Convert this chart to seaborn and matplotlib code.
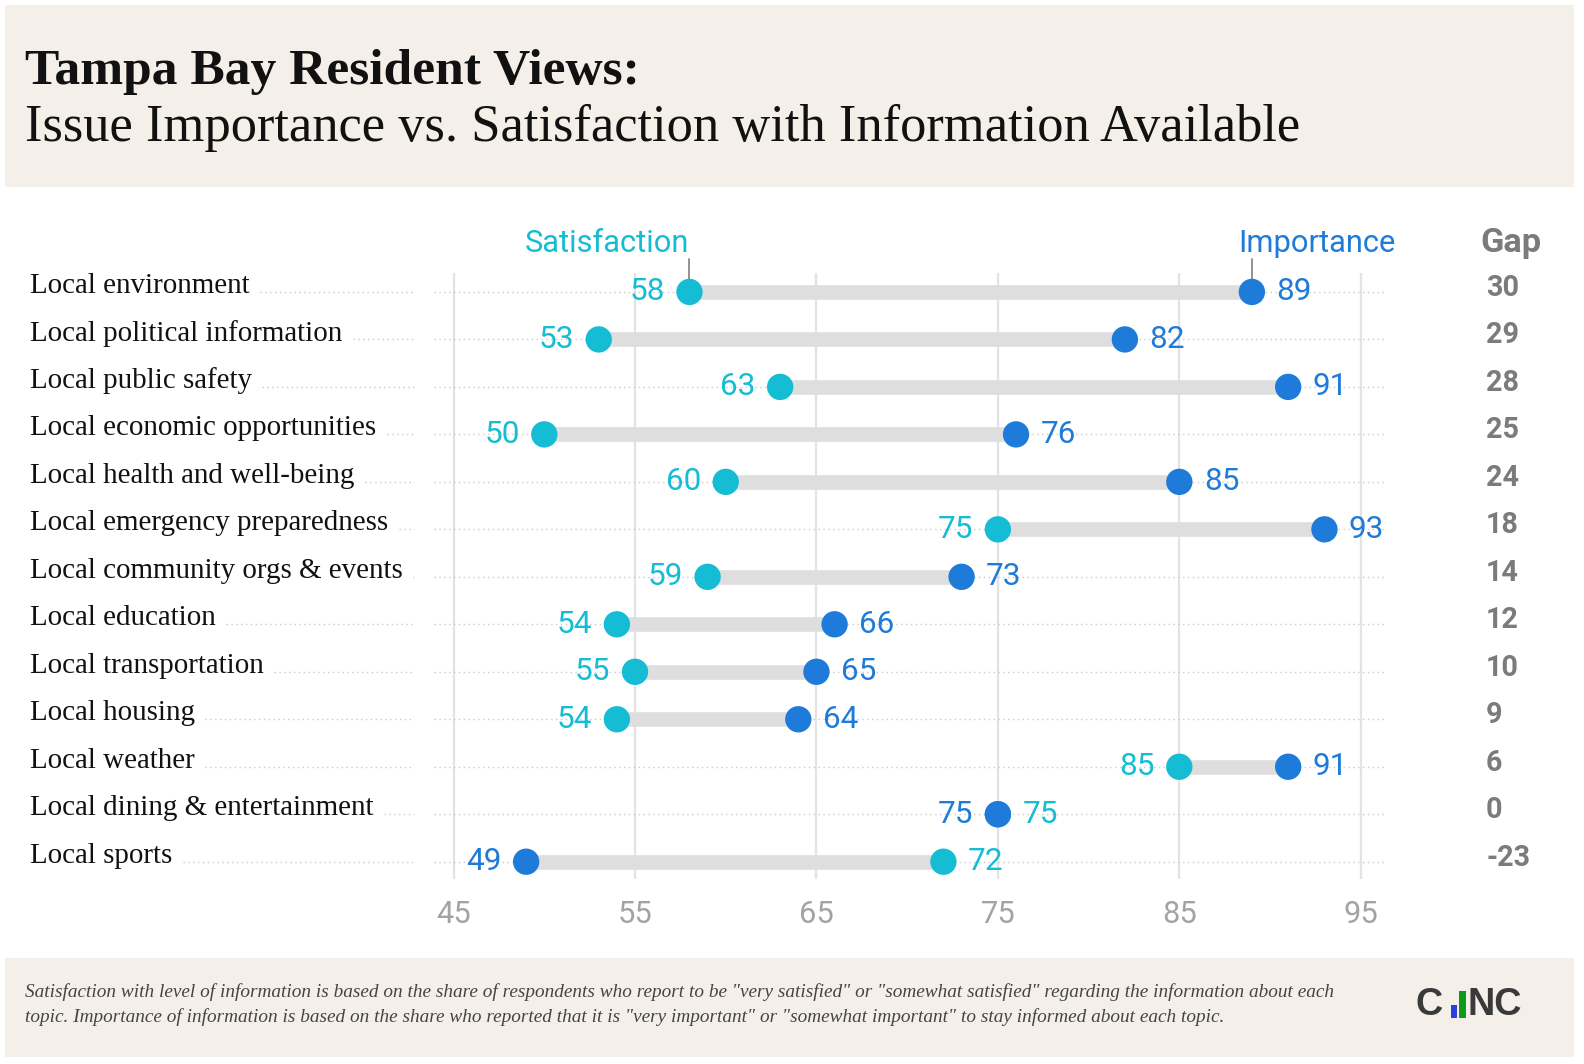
import numpy as np
import pandas as pd
import seaborn as sns
import matplotlib
matplotlib.use("Agg")
import matplotlib.pyplot as plt
from matplotlib.patches import Rectangle
from matplotlib.lines import Line2D
import matplotlib.transforms as mtransforms

# ---------------- data ----------------
categories = [
    "Local environment",
    "Local political information",
    "Local public safety",
    "Local economic opportunities",
    "Local health and well-being",
    "Local emergency preparedness",
    "Local community orgs & events",
    "Local education",
    "Local transportation",
    "Local housing",
    "Local weather",
    "Local dining & entertainment",
    "Local sports",
]
satisfaction = [58, 53, 63, 50, 60, 75, 59, 54, 55, 54, 85, 75, 72]
importance = [89, 82, 91, 76, 85, 93, 73, 66, 65, 64, 91, 75, 49]
gap = [30, 29, 28, 25, 24, 18, 14, 12, 10, 9, 6, 0, -23]
x_ticks = [45, 55, 65, 75, 85, 95]

title = "Tampa Bay Resident Views:"
subtitle = "Issue Importance vs. Satisfaction with Information Available"
note1 = ('Satisfaction with level of information is based on the share of respondents who report to be "very satisfied" '
         'or "somewhat satisfied" regarding the information about each')
note2 = ('topic. Importance of information is based on the share who reported that it is "very important" or '
         '"somewhat important" to stay informed about each topic.')

df = pd.DataFrame({"category": categories, "Satisfaction": satisfaction,
                   "Importance": importance, "Gap": gap})
df["row"] = np.arange(len(df))
long = df.melt(id_vars=["category", "row"], value_vars=["Satisfaction", "Importance"],
               var_name="measure", value_name="value")

# ---------------- style ----------------
sns.set_theme(style="white")
plt.rcParams["font.family"] = ["Roboto", "DejaVu Sans"]

SAT = "#14BDD3"
IMP = "#1F7BD9"
BEIGE = "#F4F0E9"
GRAYTXT = "#7B7B7B"

W, H = 1584, 1064
S = 1584 / 1568.0  # layout measured on a 1568-wide view

fig = plt.figure(figsize=(W / 100, H / 100), dpi=100)
fig.patch.set_facecolor("white")

def fx(px):
    return px * S / W

def fy(py):
    return 1 - py * S / H

def fs(pt):
    return pt * S

# beige bands
fig.patches.append(Rectangle((fx(5), fy(185)), fx(1558) - fx(5), fy(5) - fy(185),
                             transform=fig.transFigure, facecolor=BEIGE, edgecolor="none", zorder=0))
fig.patches.append(Rectangle((fx(5), fy(1046)), fx(1558) - fx(5), fy(948) - fy(1046),
                             transform=fig.transFigure, facecolor=BEIGE, edgecolor="none", zorder=0))

# axes
ax_l, ax_r, ax_t, ax_b = 430, 1370, 270, 870
ax = fig.add_axes([fx(ax_l), fy(ax_b), fx(ax_r) - fx(ax_l), fy(ax_t) - fy(ax_b)])
ax.set_facecolor("none")
xmin = 45 - (449 - ax_l) / 17.96
xmax = 95 + (ax_r - 1347) / 17.96
ax.set_xlim(xmin, xmax)
ax.set_ylim(12 + (ax_b - 853) / 47, -(289 - ax_t) / 47)
for s in ax.spines.values():
    s.set_visible(False)

# vertical gridlines
for t in x_ticks:
    ax.axvline(t, color="#E3E3E3", lw=1.6, zorder=0)
# dotted row lines
for r in df["row"]:
    ax.axhline(r, color="#C9C9C9", lw=1.0, ls=(0, (1, 2.5)), zorder=0.5)

# connector bars
ax.hlines(df["row"], df[["Satisfaction", "Importance"]].min(axis=1),
          df[["Satisfaction", "Importance"]].max(axis=1),
          color="#DEDEDE", lw=10.5, zorder=1)

# dots
sns.scatterplot(data=long, x="value", y="row", hue="measure",
                hue_order=["Satisfaction", "Importance"],
                palette={"Satisfaction": SAT, "Importance": IMP},
                s=360, edgecolor="none", legend=False, ax=ax, zorder=3)

ax.set_xticks(x_ticks)
ax.set_xticklabels([str(t) for t in x_ticks], fontsize=fs(22), color="#A3A3A3")
ax.tick_params(axis="x", length=0, pad=15)
ax.set_yticks([])
ax.set_xlabel("")
ax.set_ylabel("")

# value labels
off = 1.35
VF = fs(22.5)
for _, rw in df.iterrows():
    s_v, i_v, r = rw["Satisfaction"], rw["Importance"], rw["row"]
    if s_v >= i_v:
        ax.text(i_v - off, r, f"{i_v}", ha="right", va="center", color=IMP, fontsize=VF, zorder=4)
        ax.text(s_v + off, r, f"{s_v}", ha="left", va="center", color=SAT, fontsize=VF, zorder=4)
    else:
        ax.text(s_v - off, r, f"{s_v}", ha="right", va="center", color=SAT, fontsize=VF, zorder=4)
        ax.text(i_v + off, r, f"{i_v}", ha="left", va="center", color=IMP, fontsize=VF, zorder=4)

# header labels
blend = mtransforms.blended_transform_factory(ax.transData, fig.transFigure)
ax.text(satisfaction[0], fy(241), "Satisfaction", transform=blend, ha="right", va="center",
        color=SAT, fontsize=fs(22))
ax.text(importance[0] - 0.75, fy(241), "Importance", transform=blend, ha="left", va="center",
        color=IMP, fontsize=fs(22))
for xv in (satisfaction[0], importance[0]):
    ax.add_line(Line2D([xv, xv], [fy(256), fy(278)], transform=blend, color="#8A8A8A", lw=1.3,
                       zorder=2, clip_on=False))

# gap column
fig.text(fx(1465), fy(241), "Gap", ha="left", va="center", color=GRAYTXT, fontsize=fs(24.5),
         fontweight="bold")
for r, g in zip(df["row"], gap):
    fig.text(fx(1471), fy(289 + 47 * r - 4), f"{g}", ha="left", va="center", color=GRAYTXT,
             fontsize=fs(20.5), fontweight="bold")

fig.canvas.draw()
renderer = fig.canvas.get_renderer()

def fit(t, target):
    w = t.get_window_extent(renderer).width
    t.set_fontsize(t.get_fontsize() * target * S / w)

serif = ["Liberation Serif", "DejaVu Serif"]

# category labels
labels = []
for r, c in zip(df["row"], categories):
    t = fig.text(fx(30), fy(289 + 47 * r - 6), c, ha="left", va="center", color="#111111",
                 fontsize=17, family=serif)
    labels.append(t)
fig.canvas.draw()
fit(labels[3], 343)
for t in labels:
    t.set_fontsize(labels[3].get_fontsize())
fig.canvas.draw()
for r, t in zip(df["row"], labels):
    bb = t.get_window_extent(renderer)
    x0 = bb.x1 + 10 * S
    x1 = 410 * S
    if x0 < x1:
        fig.add_artist(Line2D([x0 / W, x1 / W], [fy(289 + 47 * r), fy(289 + 47 * r)],
                              transform=fig.transFigure, color="#C9C9C9", lw=1.0,
                              ls=(0, (1, 2.5))))

# titles
t1 = fig.text(fx(25), fy(83), title, ha="left", va="baseline", color="#111111",
              fontsize=36, fontweight="bold", family=serif)
t2 = fig.text(fx(25), fy(140), subtitle, ha="left", va="baseline", color="#111111",
              fontsize=34, family=serif)
n1 = fig.text(fx(25), fy(982), note1, ha="left", va="center", color="#444444",
              fontsize=12, style="italic", family=serif)
n2 = fig.text(fx(25), fy(1007), note2, ha="left", va="center", color="#444444",
              fontsize=12, style="italic", family=serif)
fig.canvas.draw()
fit(t1, 609)
fit(t2, 1265)
fit(n1, 1297)
n2.set_fontsize(n1.get_fontsize())

# logo
LOGO = "#3A3A3A"
sans = ["Liberation Sans", "DejaVu Sans"]
fig.text(fx(1401), fy(995), "C", ha="left", va="center", color=LOGO, fontsize=fs(27),
         fontweight="bold", family=sans)
fig.patches.append(Rectangle((fx(1436), fy(1008)), fx(6.5), fy(0) - fy(13), transform=fig.transFigure,
                             facecolor="#2B3FE0", edgecolor="none"))
fig.patches.append(Rectangle((fx(1444.5), fy(1008)), fx(6.5), fy(0) - fy(27), transform=fig.transFigure,
                             facecolor="#109A1A", edgecolor="none"))
fig.text(fx(1453), fy(995), "NC", ha="left", va="center", color=LOGO, fontsize=fs(27),
         fontweight="bold", family=sans)

fig.savefig("out.png", dpi=100, facecolor="white")
